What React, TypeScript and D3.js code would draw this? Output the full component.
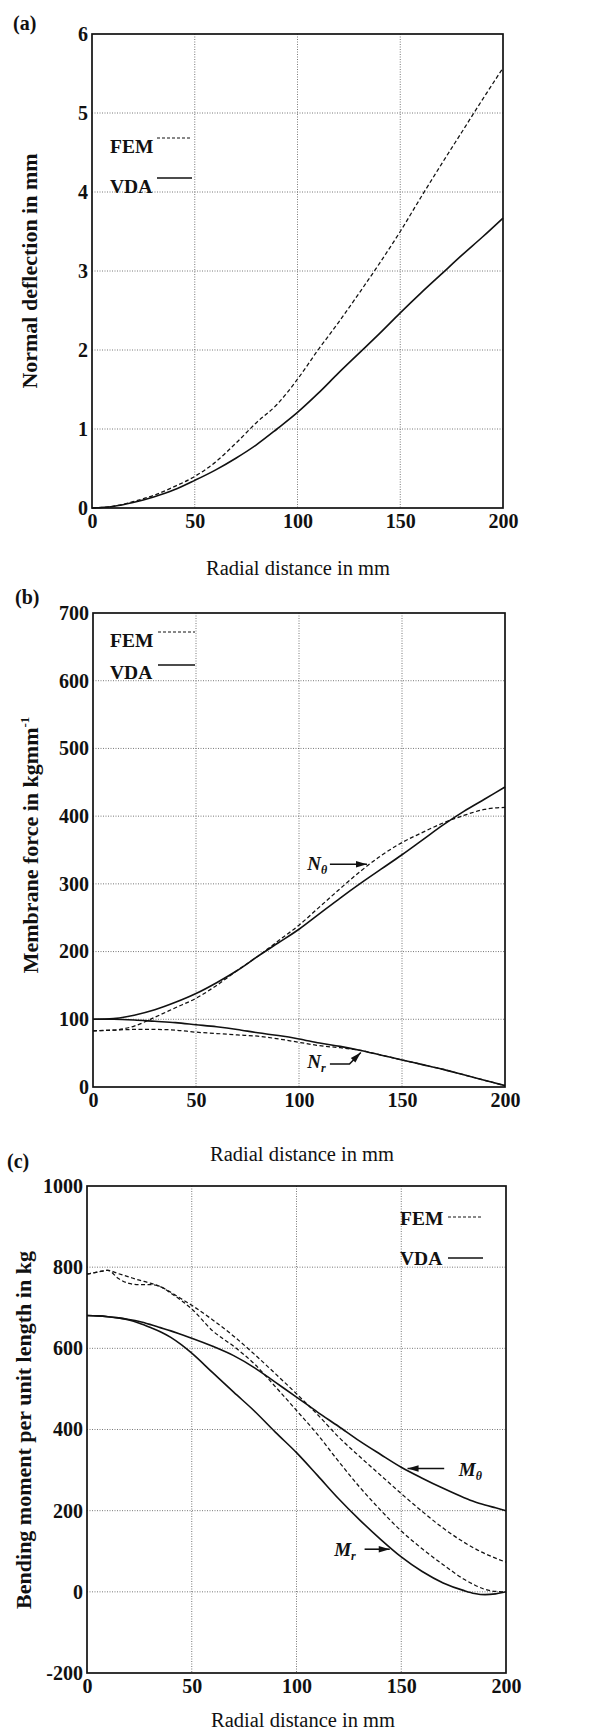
import * as d3 from 'd3'
import { useEffect, useRef } from 'react'

const radialTicks = [0, 50, 100, 150, 200]

// (a) normal deflection in mm
const radialA = [0, 10, 20, 30, 40, 50, 60, 70, 80, 90, 100, 110, 120, 130, 140, 150, 160, 170, 180, 190, 200]
const femDeflection = [0, 0.02, 0.08, 0.16, 0.27, 0.4, 0.58, 0.82, 1.08, 1.31, 1.63, 2.0, 2.35, 2.72, 3.1, 3.5, 3.93, 4.35, 4.76, 5.17, 5.57]
const vdaDeflection = [0, 0.02, 0.07, 0.14, 0.23, 0.35, 0.48, 0.63, 0.8, 1.0, 1.21, 1.45, 1.71, 1.96, 2.21, 2.47, 2.72, 2.96, 3.2, 3.43, 3.67]
const deflectionTicks = [0, 1, 2, 3, 4, 5, 6]

// (b) membrane force
const radialB = radialA
const femNtheta = [83, 84, 90, 103, 117, 131, 150, 172, 193, 216, 239, 266, 293, 319, 342, 361, 376, 390, 401, 410, 413]
const vdaNtheta = [100, 101, 106, 114, 125, 138, 154, 172, 193, 213, 233, 256, 279, 301, 322, 343, 365, 387, 407, 425, 443]
const femNr = [83, 84, 85, 85, 84, 81, 79, 77, 75, 71, 66, 61, 58, 54, 47, 40, 33, 26, 18, 10, 2]
const vdaNr = [100, 100, 99, 97, 95, 92, 89, 85, 80, 76, 71, 65, 60, 54, 47, 40, 33, 26, 18, 10, 2]
const forceTicks = [0, 100, 200, 300, 400, 500, 600, 700]

// (c) bending moment
const radialC = [0, 5, 10, 15, 20, 25, 30, 35, 40, 45, 50, 60, 70, 80, 90, 100, 110, 120, 130, 140, 150, 160, 170, 180, 185, 190, 195, 200]
const femMtheta = [783, 788, 792, 784, 776, 768, 761, 752, 738, 722, 706, 670, 630, 585, 537, 488, 437, 382, 334, 288, 242, 198, 157, 122, 107, 94, 83, 73]
const femMr = [783, 788, 792, 772, 760, 757, 757, 752, 736, 718, 697, 643, 605, 561, 505, 447, 388, 322, 259, 202, 150, 106, 67, 31, 17, 6, 1, 0]
const vdaMtheta = [681, 680, 678, 675, 671, 666, 659, 651, 643, 634, 625, 605, 582, 552, 516, 480, 443, 408, 372, 339, 307, 280, 255, 232, 222, 214, 207, 200]
const vdaMr = [681, 680, 678, 675, 670, 662, 652, 641, 627, 609, 588, 540, 492, 445, 393, 343, 287, 230, 178, 130, 86, 50, 22, 3, -4, -7, -5, 0]
const momentTicks = [-200, 0, 200, 400, 600, 800, 1000]

const serif = "'Liberation Serif', 'Times New Roman', serif"

type Series = { xs: number[]; ys: number[]; dashed: boolean }
type Note = { text: string; sub: string; tx: number; ty: number; path: [number, number][] }

const panels = [
  {
    letter: '(a)', letterX: 13, letterY: 30,
    left: 92, right: 503, top: 34, bottom: 508,
    yDomain: [0, 6], yTicks: deflectionTicks,
    series: [
      { xs: radialA, ys: femDeflection, dashed: true },
      { xs: radialA, ys: vdaDeflection, dashed: false },
    ] as Series[],
    legend: { tx: 110, fem: 153, vda: 193, lx1: 157, lx2: 192, femLine: 138, vdaLine: 178 },
    xTitleY: 575, xTitleX: 298,
    yTitle: 'Normal deflection in mm', ySup: '', yTitleX: 37, yTitleY: 271,
    notes: [] as Note[],
  },
  {
    letter: '(b)', letterX: 15, letterY: 604,
    left: 93, right: 505, top: 613, bottom: 1087,
    yDomain: [0, 700], yTicks: forceTicks,
    series: [
      { xs: radialB, ys: femNtheta, dashed: true },
      { xs: radialB, ys: vdaNtheta, dashed: false },
      { xs: radialB, ys: femNr, dashed: true },
      { xs: radialB, ys: vdaNr, dashed: false },
    ] as Series[],
    legend: { tx: 110, fem: 647, vda: 679, lx1: 158, lx2: 195, femLine: 632, vdaLine: 665 },
    xTitleY: 1161, xTitleX: 302,
    yTitle: 'Membrane force in kgmm', ySup: '-1', yTitleX: 38, yTitleY: 845,
    notes: [
      { text: 'N', sub: 'θ', tx: 104, ty: 321, path: [[115, 329], [133, 329]] },
      { text: 'N', sub: 'r', tx: 104, ty: 28, path: [[115, 34], [124.5, 34], [130, 51]] },
    ] as Note[],
  },
  {
    letter: '(c)', letterX: 7, letterY: 1168,
    left: 87, right: 506, top: 1186, bottom: 1673,
    yDomain: [-200, 1000], yTicks: momentTicks,
    series: [
      { xs: radialC, ys: femMtheta, dashed: true },
      { xs: radialC, ys: femMr, dashed: true },
      { xs: radialC, ys: vdaMtheta, dashed: false },
      { xs: radialC, ys: vdaMr, dashed: false },
    ] as Series[],
    legend: { tx: 400, fem: 1225, vda: 1265, lx1: 448, lx2: 483, femLine: 1217, vdaLine: 1258 },
    xTitleY: 1727, xTitleX: 303,
    yTitle: 'Bending moment per unit length in kg', ySup: '', yTitleX: 31, yTitleY: 1430,
    notes: [
      { text: 'M', sub: 'θ', tx: 177.5, ty: 286, path: [[170.5, 304], [153, 304]] },
      { text: 'M', sub: 'r', tx: 118, ty: 89, path: [[132.5, 105], [144.5, 105]] },
    ] as Note[],
  },
]

const App = () => {
  const ref = useRef<SVGSVGElement>(null)

  useEffect(() => {
    if (!ref.current) return
    const svg = d3.select(ref.current)
    svg.selectAll('*').remove()

    panels.forEach((p) => {
      const g = svg.append('g')
      const x = d3.scaleLinear().domain([0, 200]).range([p.left, p.right])
      const y = d3.scaleLinear().domain(p.yDomain).range([p.bottom, p.top])

      // dotted grid
      g.append('g')
        .selectAll('line')
        .data(radialTicks.slice(1, -1))
        .join('line')
        .attr('x1', (d) => x(d))
        .attr('x2', (d) => x(d))
        .attr('y1', p.top)
        .attr('y2', p.bottom)
        .attr('stroke', '#555')
        .attr('stroke-width', 0.8)
        .attr('stroke-dasharray', '1,1.5')
      g.append('g')
        .selectAll('line')
        .data(p.yTicks.slice(1, -1))
        .join('line')
        .attr('x1', p.left)
        .attr('x2', p.right)
        .attr('y1', (d) => y(d))
        .attr('y2', (d) => y(d))
        .attr('stroke', '#555')
        .attr('stroke-width', 0.8)
        .attr('stroke-dasharray', '1,1.5')

      // tick labels
      g.append('g')
        .attr('transform', `translate(0,${p.bottom})`)
        .call(d3.axisBottom(x).tickValues(radialTicks).tickSize(0).tickPadding(6))
        .call((a) => a.select('.domain').remove())
        .attr('font-family', serif)
        .attr('font-size', 20)
        .attr('font-weight', 'bold')
        .selectAll('text')
        .attr('fill', '#111')
      g.append('g')
        .attr('transform', `translate(${p.left},0)`)
        .call(d3.axisLeft(y).tickValues(p.yTicks).tickSize(0).tickPadding(4).tickFormat((d) => `${d}`))
        .call((a) => a.select('.domain').remove())
        .attr('font-family', serif)
        .attr('font-size', 20)
        .attr('font-weight', 'bold')
        .selectAll('text')
        .attr('fill', '#111')

      // curves
      const line = d3
        .line<[number, number]>()
        .x((d) => x(d[0]))
        .y((d) => y(d[1]))
        .curve(d3.curveMonotoneX)
      p.series.forEach((s) => {
        g.append('path')
          .datum(d3.zip(s.xs, s.ys) as [number, number][])
          .attr('d', line)
          .attr('fill', 'none')
          .attr('stroke', '#111')
          .attr('stroke-width', s.dashed ? 1.25 : 1.6)
          .attr('stroke-dasharray', s.dashed ? '4,2.5' : null)
      })

      // frame
      g.append('rect')
        .attr('x', p.left)
        .attr('y', p.top)
        .attr('width', p.right - p.left)
        .attr('height', p.bottom - p.top)
        .attr('fill', 'none')
        .attr('stroke', '#111')
        .attr('stroke-width', 1.7)

      // legend
      const L = p.legend
      ;[
        { name: 'FEM', base: L.fem, ly: L.femLine, dashed: true },
        { name: 'VDA', base: L.vda, ly: L.vdaLine, dashed: false },
      ].forEach((e) => {
        g.append('text')
          .attr('x', L.tx)
          .attr('y', e.base)
          .attr('font-family', serif)
          .attr('font-size', 19.5)
          .attr('font-weight', 'bold')
          .attr('fill', '#111')
          .text(e.name)
        g.append('line')
          .attr('x1', L.lx1)
          .attr('x2', L.lx2)
          .attr('y1', e.ly)
          .attr('y2', e.ly)
          .attr('stroke', '#111')
          .attr('stroke-width', e.dashed ? 1 : 1.5)
          .attr('stroke-dasharray', e.dashed ? '3,2' : null)
      })

      // panel letter
      g.append('text')
        .attr('x', p.letterX)
        .attr('y', p.letterY)
        .attr('font-family', serif)
        .attr('font-size', 20)
        .attr('font-weight', 'bold')
        .attr('fill', '#111')
        .text(p.letter)

      // titles
      g.append('text')
        .attr('x', p.xTitleX)
        .attr('y', p.xTitleY)
        .attr('text-anchor', 'middle')
        .attr('font-family', serif)
        .attr('font-size', 20.5)
        .attr('fill', '#111')
        .text('Radial distance in mm')
      const yt = g
        .append('text')
        .attr('transform', `translate(${p.yTitleX},${p.yTitleY}) rotate(-90)`)
        .attr('text-anchor', 'middle')
        .attr('font-family', serif)
        .attr('font-size', 22)
        .attr('font-weight', 'bold')
        .attr('fill', '#111')
      yt.append('tspan').text(p.yTitle)
      if (p.ySup) {
        yt.append('tspan').attr('dy', -9).attr('font-size', 13).text(p.ySup)
      }

      // annotations with arrows
      p.notes.forEach((n) => {
        const t = g
          .append('text')
          .attr('x', x(n.tx))
          .attr('y', y(n.ty))
          .attr('font-family', serif)
          .attr('font-size', 19)
          .attr('font-weight', 'bold')
          .attr('font-style', 'italic')
          .attr('fill', '#111')
        t.append('tspan').text(n.text)
        t.append('tspan').attr('dy', 4).attr('font-size', 12).text(n.sub)

        const pts = n.path.map(([a, b]) => [x(a), y(b)] as [number, number])
        g.append('path')
          .attr('d', d3.line()(pts))
          .attr('fill', 'none')
          .attr('stroke', '#111')
          .attr('stroke-width', 1.6)
        const [x1, y1] = pts[pts.length - 2]
        const [x2, y2] = pts[pts.length - 1]
        const ang = Math.atan2(y2 - y1, x2 - x1)
        const len = 11
        const w = 3.2
        const bx = x2 - len * Math.cos(ang)
        const by = y2 - len * Math.sin(ang)
        g.append('path')
          .attr(
            'd',
            `M${x2},${y2} L${bx - w * Math.sin(ang)},${by + w * Math.cos(ang)} L${bx + w * Math.sin(ang)},${by - w * Math.cos(ang)} Z`
          )
          .attr('fill', '#111')
      })
    })
  }, [])

  return (
    <div>
      <svg
        ref={ref}
        width={612}
        height={1736}
        style={{ position: 'absolute', left: 0, top: 0, background: '#fff' }}
      />
    </div>
  )
}

export default App
